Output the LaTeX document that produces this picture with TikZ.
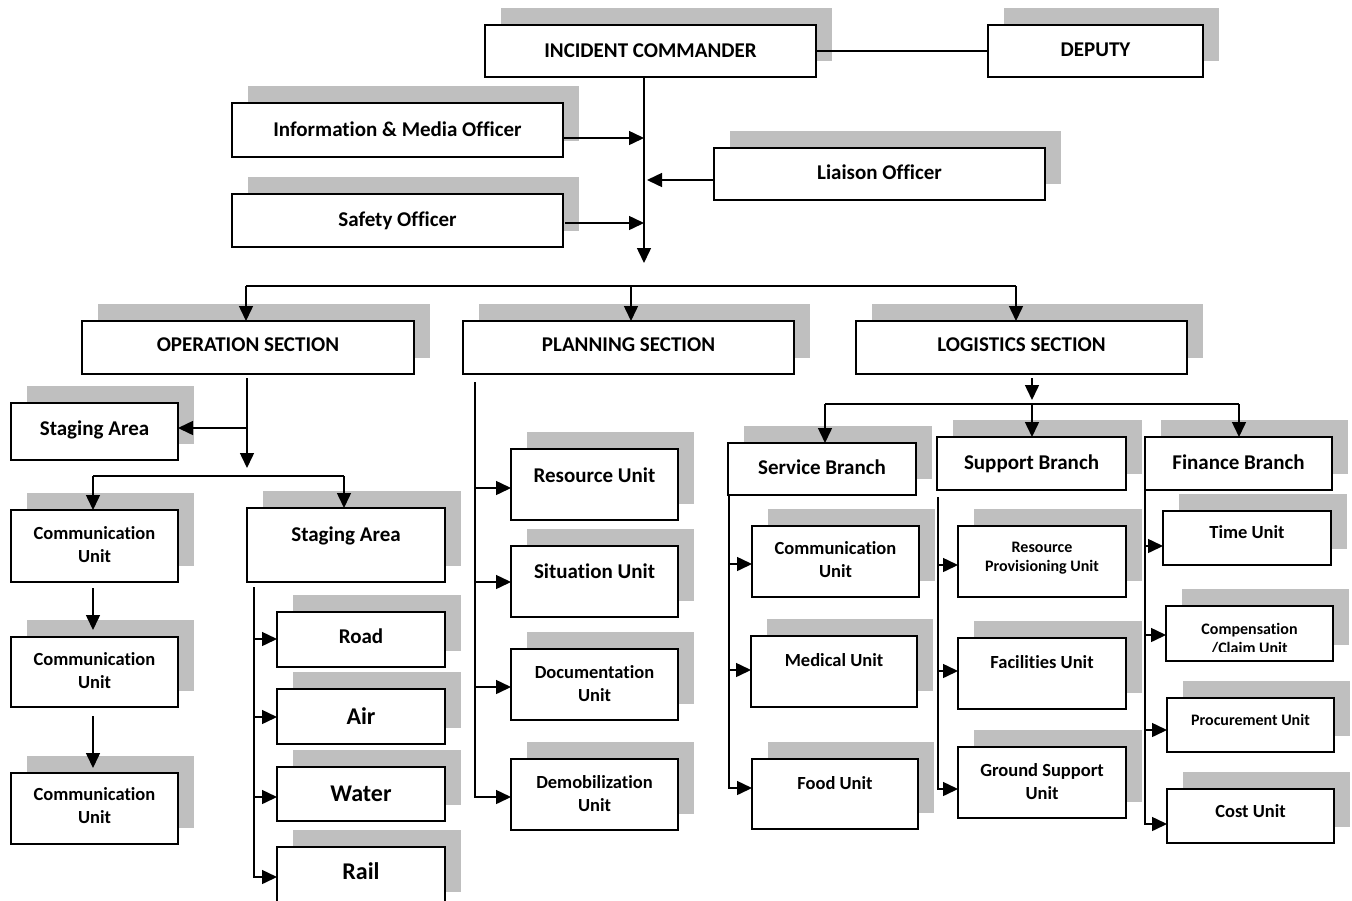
\documentclass[tikz,border=0pt]{standalone}
\usepackage{fontspec}
\setmainfont{Carlito}[Ligatures=NoCommon]
\usetikzlibrary{arrows.meta}
\definecolor{shadowc}{RGB}{191,191,191}
\tikzset{
  boxst/.style={draw=black, line width=1.8pt, fill=white, inner sep=0pt, outer sep=0pt},
  t21/.style={font=\bfseries\fontsize{21}{25}\selectfont, align=center, inner sep=0pt},
  t18/.style={font=\bfseries\fontsize{18.5}{23}\selectfont, align=center, inner sep=0pt},
  t16/.style={font=\bfseries\fontsize{16}{19}\selectfont, align=center, inner sep=0pt},
  t24/.style={font=\bfseries\fontsize{24}{28}\selectfont, align=center, inner sep=0pt},
  one/.style={text depth=0pt},
  ln/.style={line width=1.5pt},
  arr/.style={line width=1.5pt, -{Triangle[length=15pt,width=14pt]}}
}
\newcommand\ubox[8]{%
  \fill[shadowc] ({#2+16},{#3-17}) rectangle ({#4+16},{#5-16});
  \node[boxst, minimum width={(#4-#2)*1pt}, minimum height={(#5-#3)*1pt}] (#1) at ({(#2+#4)/2},{(#3+#5)/2}) {};
  \node[#6] (#1-t) at ({(#2+#4)/2},#7) {#8};
}
\begin{document}
\begin{tikzpicture}[x=1pt,y=-1pt]
\useasboundingbox (0,0) rectangle (1352,900);
\fill[white] (0,0) rectangle (1352,900);

% top
\ubox{ic}{485}{25}{816}{77}{t21,one}{51}{INCIDENT COMMANDER}
\ubox{dep}{988}{25}{1203}{77}{t21,one}{50}{DEPUTY}
\ubox{info}{232}{103}{563}{157}{t21,one}{129}{Information \& Media Officer}
\ubox{liai}{714}{148}{1045}{200}{t21,one}{172}{Liaison Officer}
\ubox{safe}{232}{194}{563}{247}{t21,one}{219}{Safety Officer}

% sections
\ubox{ops}{82}{321}{414}{374}{t21,one}{345}{OPERATION SECTION}
\ubox{plan}{463}{321}{794}{374}{t21,one}{345}{PLANNING SECTION}
\ubox{log}{856}{321}{1187}{374}{t21,one}{345}{LOGISTICS SECTION}

% operations
\ubox{stg1}{11}{403}{178}{460}{t21,one}{428}{Staging Area}
\ubox{com1}{11}{510}{178}{582}{t18}{545}{Communication\\Unit}
\ubox{stg2}{247}{508}{445}{582}{t21,one}{534}{Staging Area}
\ubox{com2}{11}{637}{178}{707}{t18}{671}{Communication\\Unit}
\ubox{com3}{11}{773}{178}{844}{t18}{806}{Communication\\Unit}
\ubox{road}{277}{612}{445}{667}{t21,one}{636}{Road}
\ubox{air}{277}{689}{445}{744}{t24,one}{716}{Air}
\ubox{water}{277}{767}{445}{821}{t24,one}{794}{Water}
\ubox{rail}{277}{847}{445}{908}{t24,one}{871}{Rail}

% planning
\ubox{res}{511}{449}{678}{520}{t21,one}{475}{Resource Unit}
\ubox{sit}{511}{546}{678}{617}{t21,one}{571}{Situation Unit}
\ubox{doc}{511}{649}{678}{720}{t18}{684}{Documentation\\Unit}
\ubox{dem}{511}{759}{678}{830}{t18}{794}{Demobilization\\Unit}

% logistics
\ubox{serv}{728}{443}{916}{495}{t21,one}{467}{Service Branch}
\ubox{supp}{937}{437}{1126}{490}{t21,one}{462}{Support Branch}
\ubox{fin}{1145}{437}{1332}{490}{t21,one}{462}{Finance Branch}
\ubox{scom}{752}{526}{919}{597}{t18}{560}{Communication\\Unit}
\ubox{med}{751}{636}{917}{707}{t18,one}{660}{Medical Unit}
\ubox{food}{752}{759}{918}{829}{t18,one}{783}{Food Unit}
\ubox{rpu}{958}{526}{1126}{597}{t16}{558}{Resource\\Provisioning Unit}
\ubox{fac}{958}{638}{1126}{709}{t18,one}{662}{Facilities Unit}
\ubox{gsu}{958}{747}{1126}{818}{t18}{782}{Ground Support\\Unit}
\ubox{time}{1163}{511}{1331}{565}{t18,one}{532}{Time Unit}
\fill[shadowc] (1182,589) rectangle (1349,645);
\node[boxst, minimum width=167pt, minimum height=55pt] (comp) at (1249.5,633.5) {};
\begin{scope}
\clip (1160,600) rectangle (1340,651);
\node[t16] (comp-t) at (1249.5,639) {Compensation\\/Claim Unit};
\end{scope}
\ubox{proc}{1167}{698}{1334}{752}{t16,one}{720}{Procurement Unit}
\ubox{cost}{1167}{789}{1334}{843}{t18,one}{811}{Cost Unit}

% connectors: top
\draw[ln] (ic.east) -- (dep.west);
\coordinate (sp) at (644,263);
\coordinate (liaiTip) at (647,180);
\draw[arr] (ic.south -| sp) -- (sp);
\draw[arr] (info.east |- 0,138) -- (sp |- 0,138);
\draw[arr] (liai.west |- 0,180) -- (liaiTip);
\draw[arr, shorten <=2pt] (safe.east |- 0,223) -- (sp |- 0,223);

% section bar
\coordinate (b1) at (246,286);
\coordinate (b2) at (631,286);
\coordinate (b3) at (1016,286);
\draw[ln] (b1) -- (b3);
\draw[arr] (b1) -- (ops.north -| b1);
\draw[arr] (b2) -- (plan.north -| b2);
\draw[arr] (b3) -- (log.north -| b3);

% operations connectors
\coordinate (oj) at (247,468);
\draw[arr, shorten <=4pt] (ops.south -| oj) -- (oj);
\draw[arr] (oj |- 0,428) -- (stg1.east |- 0,428);
\coordinate (ob1) at (93,476);
\coordinate (ob2) at (344,476);
\draw[ln] (ob1) -- (ob2);
\draw[arr] (ob1) -- (com1.north -| ob1);
\draw[arr] (ob2) -- (stg2.north -| ob2);
\draw[arr, shorten <=6pt, shorten >=7pt] (com1.south -| ob1) -- (com2.north -| ob1);
\draw[arr, shorten <=9pt, shorten >=5pt] (com2.south -| ob1) -- (com3.north -| ob1);
\coordinate (st) at (254,587);
\draw[arr] (st) |- (rail.west |- 0,877);
\draw[arr] (st |- 0,639) -- (road.west |- 0,639);
\draw[arr] (st |- 0,717) -- (air.west |- 0,717);
\draw[arr] (st |- 0,797) -- (water.west |- 0,797);

% planning connectors
\coordinate (pt) at (475,382);
\draw[arr] (pt) |- (dem.west |- 0,797);
\draw[arr] (pt |- 0,488) -- (res.west |- 0,488);
\draw[arr] (pt |- 0,582) -- (sit.west |- 0,582);
\draw[arr] (pt |- 0,687) -- (doc.west |- 0,687);

% logistics connectors
\coordinate (lj) at (1032,400);
\draw[arr, shorten <=4pt] (log.south -| lj) -- (lj);
\coordinate (lb1) at (825,404);
\coordinate (lb2) at (1032,404);
\coordinate (lb3) at (1239,404);
\draw[ln] (lb1) -- (lb3);
\draw[arr] (lb1) -- (serv.north -| lb1);
\draw[arr] (lb2) -- (supp.north -| lb2);
\draw[arr] (lb3) -- (fin.north -| lb3);

\coordinate (svt) at (729,495);
\draw[arr] (svt) |- (food.west |- 0,788);
\draw[arr] (svt |- 0,564) -- (scom.west |- 0,564);
\draw[arr] (svt |- 0,670) -- (med.west |- 0,670);

\coordinate (spt) at (938,497);
\draw[arr] (spt) |- (gsu.west |- 0,789);
\draw[arr] (spt |- 0,565) -- (rpu.west |- 0,565);
\draw[arr] (spt |- 0,671) -- (fac.west |- 0,671);

\coordinate (fnt) at (1145,490);
\draw[arr] (fnt) |- (cost.west |- 0,824);
\draw[arr] (fnt |- 0,546) -- (time.west |- 0,546);
\draw[arr] (fnt |- 0,635) -- (comp.west |- 0,635);
\draw[arr] (fnt |- 0,730) -- (proc.west |- 0,730);
\end{tikzpicture}
\end{document}
